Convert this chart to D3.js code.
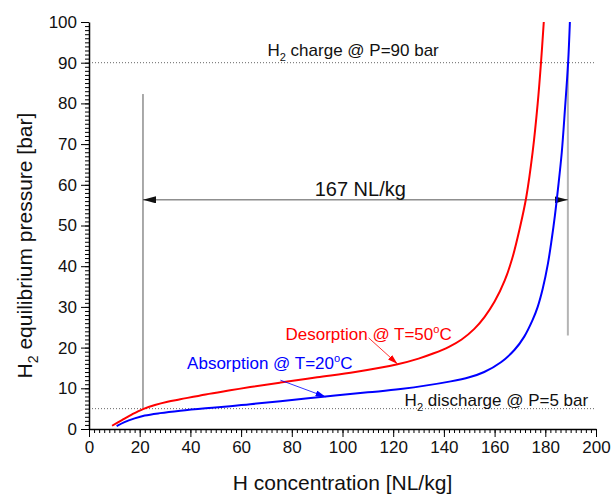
<!DOCTYPE html>
<html>
<head>
<meta charset="utf-8">
<script src="https://cdn.jsdelivr.net/npm/d3@7"></script>
<style>
body { margin: 0; background: #fff; }
text { font-family: "Liberation Sans", Arial, sans-serif; }
</style>
</head>
<body>
<svg id="chart" width="611" height="495"></svg>
<script>
// desorption isotherm @ 50 C (red)
const desorbX = [9.1, 13, 17, 21.3, 26, 31, 36, 46, 55.7, 63.6, 75.5, 90, 105, 121.7, 130, 136, 142, 147, 152, 156, 160, 164, 167, 170, 172.5, 175, 177, 178.3, 179.4];
const desorbP = [0.8, 2.2, 3.6, 4.9, 5.9, 6.7, 7.3, 8.5, 9.5, 10.3, 11.4, 12.7, 14.0, 15.9, 17.3, 18.6, 20.2, 22.0, 24.6, 27.5, 31.3, 36.5, 42, 49.5, 57, 68, 80, 90, 100];
// absorption isotherm @ 20 C (blue)
const absorbX = [10.9, 14, 18, 22, 28, 36, 46, 55.7, 63.6, 75.5, 93.3, 110, 122.9, 142.7, 150, 155.9, 162.5, 167.8, 171.7, 175, 177, 179, 181, 182.5, 183.8, 185, 186.5, 187.8, 189, 189.7];
const absorbP = [0.7, 1.7, 2.6, 3.3, 3.9, 4.5, 5.1, 5.6, 6.1, 6.8, 8.0, 9.0, 9.8, 11.7, 12.7, 14.0, 16.4, 19.4, 22.7, 26.8, 30, 34.5, 40.5, 46.5, 52.5, 59, 68, 79, 90, 100];

const xTicks = [0, 20, 40, 60, 80, 100, 120, 140, 160, 180, 200];
const yTicks = [0, 10, 20, 30, 40, 50, 60, 70, 80, 90, 100];

const chargeP = 90;
const dischargeP = 5;
const spanStart = 21.3;
const spanEnd = 188.9;
const spanP = 56.3;
const spanText = '167 NL/kg';
const leftGuideTop = 82.3;
const rightGuideBottom = 23;

const width = 611;
const height = 495;
const margin = { top: 22, right: 15, bottom: 66, left: 89 };

const $svg = d3.select('#chart');

const x = d3.scaleLinear().domain([0, 200]).range([margin.left, width - margin.right]);
const y = d3.scaleLinear().domain([0, 100]).range([height - margin.bottom, margin.top]);

const defs = $svg.append('defs');
function marker(id, color, len, wid) {
	defs.append('marker')
		.attr('id', id)
		.attr('markerUnits', 'userSpaceOnUse')
		.attr('viewBox', `0 0 ${len} ${wid}`)
		.attr('refX', len)
		.attr('refY', wid / 2)
		.attr('markerWidth', len)
		.attr('markerHeight', wid)
		.attr('orient', 'auto-start-reverse')
		.append('path')
		.attr('d', `M0,0L${len},${wid / 2}L0,${wid}Z`)
		.attr('fill', color);
}
marker('arrBlack', '#111', 13, 7);
marker('arrRed', '#ff0000', 10, 6);
marker('arrBlue', '#0000ff', 10, 6);

// guide lines (dotted)
const $guides = $svg.append('g');
[chargeP, dischargeP].forEach(p => {
	$guides.append('line')
		.attr('x1', x(0)).attr('x2', x(200))
		.attr('y1', y(p)).attr('y2', y(p))
		.attr('stroke', '#666')
		.attr('stroke-width', 1)
		.attr('stroke-dasharray', '1,2');
});

// vertical guides
$guides.append('line')
	.attr('x1', x(spanStart)).attr('x2', x(spanStart))
	.attr('y1', y(leftGuideTop)).attr('y2', y(dischargeP))
	.attr('stroke', '#555').attr('stroke-width', 1);
$guides.append('line')
	.attr('x1', x(spanEnd)).attr('x2', x(spanEnd))
	.attr('y1', y(chargeP)).attr('y2', y(rightGuideBottom))
	.attr('stroke', '#b4b4b4').attr('stroke-width', 2);

// span arrow
$guides.append('line')
	.attr('x1', x(spanStart)).attr('x2', x(spanEnd))
	.attr('y1', y(spanP)).attr('y2', y(spanP))
	.attr('stroke', '#555').attr('stroke-width', 1)
	.attr('marker-start', 'url(#arrBlack)')
	.attr('marker-end', 'url(#arrBlack)');
$guides.append('text')
	.attr('x', x(107))
	.attr('y', y(spanP) - 4)
	.attr('text-anchor', 'middle')
	.attr('font-size', 20)
	.attr('fill', '#111')
	.text(spanText);

// isotherms
const line = d3.line()
	.x(d => x(d[0]))
	.y(d => y(d[1]))
	.curve(d3.curveCatmullRom.alpha(0.5));

$svg.append('path')
	.datum(desorbX.map((v, i) => [v, desorbP[i]]))
	.attr('d', line)
	.attr('fill', 'none')
	.attr('stroke', '#ff0000')
	.attr('stroke-width', 2);

$svg.append('path')
	.datum(absorbX.map((v, i) => [v, absorbP[i]]))
	.attr('d', line)
	.attr('fill', 'none')
	.attr('stroke', '#0000ff')
	.attr('stroke-width', 2);

// axes
const $xAxis = $svg.append('g').attr('transform', `translate(0,${y(0)})`);
$xAxis.append('g')
	.call(d3.axisBottom(x).tickValues(d3.range(0, 201, 2)).tickSize(4).tickFormat('').tickSizeOuter(0))
	.call(g => g.select('.domain').remove());
$xAxis.append('g')
	.call(d3.axisBottom(x).tickValues(xTicks).tickSize(8).tickPadding(4).tickSizeOuter(0))
	.call(g => g.select('.domain').attr('stroke-width', 1.5))
	.call(g => g.selectAll('text').attr('font-size', 17).attr('fill', '#111').style('font-family', '"Liberation Sans", Arial, sans-serif'));

const $yAxis = $svg.append('g').attr('transform', `translate(${x(0)},0)`);
$yAxis.append('g')
	.call(d3.axisLeft(y).tickValues(d3.range(0, 101, 1)).tickSize(4).tickFormat('').tickSizeOuter(0))
	.call(g => g.select('.domain').remove());
$yAxis.append('g')
	.call(d3.axisLeft(y).tickValues(yTicks).tickSize(8).tickPadding(4).tickSizeOuter(0))
	.call(g => g.select('.domain').attr('stroke-width', 1.5))
	.call(g => g.selectAll('text').attr('font-size', 17).attr('fill', '#111').style('font-family', '"Liberation Sans", Arial, sans-serif'));

// axis titles
$svg.append('text')
	.attr('x', (x(0) + x(200)) / 2)
	.attr('y', 490)
	.attr('text-anchor', 'middle')
	.attr('font-size', 21)
	.attr('fill', '#111')
	.text('H concentration [NL/kg]');

const yTitle = $svg.append('text')
	.attr('transform', `translate(32,${(y(0) + y(100)) / 2 + 20}) rotate(-90)`)
	.attr('text-anchor', 'middle')
	.attr('font-size', 21)
	.attr('fill', '#111');
yTitle.append('tspan').text('H');
yTitle.append('tspan').attr('font-size', 14).attr('dy', 6).text('2');
yTitle.append('tspan').attr('dy', -6).text(' equilibrium pressure [bar]');

// annotations
function subText(px, py, before, sub, after, color, size) {
	const t = $svg.append('text')
		.attr('x', px).attr('y', py)
		.attr('font-size', size)
		.attr('fill', color);
	t.append('tspan').text(before);
	t.append('tspan').attr('font-size', size * 0.65).attr('dy', 5).text(sub);
	t.append('tspan').attr('dy', -5).text(after);
}
subText(x(70.4), y(91.6), 'H', '2', ' charge @ P=90 bar', '#111', 17);
subText(x(124.5), y(5.6), 'H', '2', ' discharge @ P=5 bar', '#111', 17);

function supText(px, py, before, sup, after, color, size) {
	const t = $svg.append('text')
		.attr('x', px).attr('y', py)
		.attr('font-size', size)
		.attr('fill', color);
	t.append('tspan').text(before);
	t.append('tspan').attr('font-size', size * 0.65).attr('dy', -7).text(sup);
	t.append('tspan').attr('dy', 7).text(after);
}
supText(x(77.5), y(21.9), 'Desorption @ T=50', 'o', 'C', '#ff0000', 17);
supText(x(38.7), y(14.7), 'Absorption @ T=20', 'o', 'C', '#0000ff', 17);

$svg.append('line')
	.attr('x1', x(110.3)).attr('y1', y(22.4))
	.attr('x2', x(121.7)).attr('y2', y(16.0))
	.attr('stroke', '#ff0000').attr('stroke-width', 0.8)
	.attr('marker-end', 'url(#arrRed)');
$svg.append('line')
	.attr('x1', x(75.5)).attr('y1', y(12.0))
	.attr('x2', x(93.3)).attr('y2', y(7.9))
	.attr('stroke', '#0000ff').attr('stroke-width', 0.8)
	.attr('marker-end', 'url(#arrBlue)');
</script>
</body>
</html>
